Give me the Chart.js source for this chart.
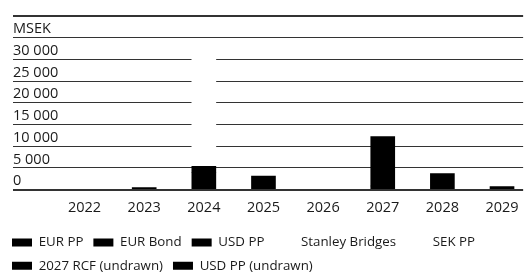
<!DOCTYPE html>
<html>
<head>
<meta charset="utf-8">
<title>Förfalloprofil</title>
<script src="https://cdn.jsdelivr.net/npm/chart.js@4.4.1/dist/chart.umd.min.js"></script>
<style>
  html, body { margin:0; padding:0; background:#fff; overflow:hidden; }
  #wrap { width:528px; height:276px; position:relative; }
</style>
</head>
<body>
<div id="wrap"><canvas id="grafico"></canvas></div>
<script>
// år på x-axeln
const years = [2022, 2023, 2024, 2025, 2026, 2027, 2028, 2029];
const unitLabel = 'MSEK';

// förfall per år, MSEK
const eurPP          = [null, 500, null, 3150, null, 850, null, null];
const eurBond        = [null, null, 3900, null, null, null, null, null];
const usdPP          = [null, null, 1500, null, null, null, 3700, null];
const stanleyBridges = [null, null, 27500, null, null, null, null, null];
const sekPP          = [null, null, null, null, null, null, null, null];
const rcfUndrawn     = [null, null, null, null, null, 11400, null, null];
const usdPPUndrawn   = [null, null, null, null, null, null, null, 700];

const seriesNames = ['EUR PP', 'EUR Bond', 'USD PP', 'Stanley Bridges', 'SEK PP', '2027 RCF (undrawn)', 'USD PP (undrawn)'];
const seriesData  = [eurPP, eurBond, usdPP, stanleyBridges, sekPP, rcfUndrawn, usdPPUndrawn];

document.addEventListener('DOMContentLoaded', () => {
  const $ = id => document.getElementById(id);
  Chart.defaults.font.family = '"Open Sans", sans-serif';
  Chart.defaults.color = '#1a1a1a';

  // Stanley Bridges och SEK PP är vita i originalet
  const white = ['Stanley Bridges', 'SEK PP'];

  const datasets = seriesNames.map((name, i) => ({
    label: name,
    data: years.map((y, j) => ({ x: y, y: seriesData[i][j] })),
    backgroundColor: white.includes(name) ? '#ffffff' : '#000000',
    borderWidth: 0,
    barThickness: 24
  }));

  const fmt = v => String(v).replace(/\B(?=(\d{3})+(?!\d))/g, ' ');

  new Chart($('grafico'), {
    type: 'bar',
    data: { datasets },
    options: {
      responsive: true,
      maintainAspectRatio: false,
      animation: false,
      layout: { padding: { top: 16, left: 2, right: 0, bottom: -6.5 } },
      plugins: {
        tooltip: { enabled: false },
        legend: {
          position: 'bottom',
          align: 'start',
          labels: { boxWidth: 20, boxHeight: 8, padding: 10, font: { size: 13.3 }, color: '#1a1a1a' }
        }
      },
      scales: {
        x: {
          type: 'linear',
          stacked: true,
          offset: false,
          min: 2020.8,
          max: 2029.354,
          afterBuildTicks: s => { s.ticks = years.map(v => ({ value: v })); },
          grid: { display: false, drawTicks: false, offset: false },
          border: { display: false },
          ticks: { callback: v => String(v), font: { size: 14.5 }, padding: 9.4, maxRotation: 0, autoSkip: false }
        },
        y: {
          stacked: true,
          min: 0,
          max: 40000,
          afterFit: s => { s.width = 11; },
          border: { display: false },
          grid: {
            drawTicks: false,
            color: '#333333',
            lineWidth: c => (c.tick && (c.tick.value === 0 || c.tick.value === 40000)) ? 2 : 1
          },
          ticks: {
            stepSize: 5000,
            mirror: true,
            padding: 0,
            labelOffset: -8.5,
            font: { size: 14.5 },
            callback: v => v === 35000 ? unitLabel : (v > 30000 ? '' : fmt(v))
          }
        }
      }
    }
  });
});
</script>
</body>
</html>
